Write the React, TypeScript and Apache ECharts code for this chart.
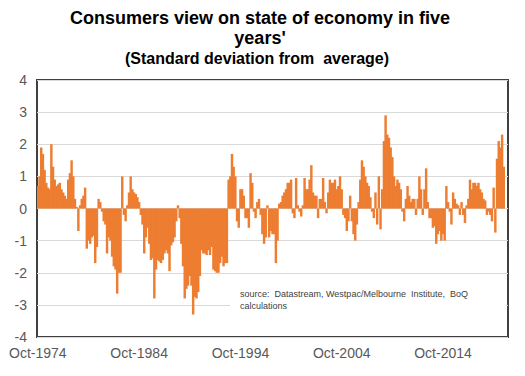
import React, { useEffect, useRef } from "react";
import * as echarts from "echarts";

// Bi-monthly readings (standard deviations from average), starting Oct-1974
const values1974to1984: (number | null)[] = [
  0.7, 1.0, 1.9, 1.7, 1.2, 0.8, 0.65, 0.6, 2.0, 1.3,
  0.9, 0.7, 0.75, 0.8, 0.6, 0.5, 0.4, 0.3, 0.9, 1.1,
  1.5, 1.0, 0.3, 0.05, -0.7, 0.1, 0.3, 0.4, 0.65, -1.25,
  -1.0, -1.1, -0.9, -0.85, -1.7, -1.2, 0.3, 0.2, -0.1, -0.4,
  -0.5, -1.4, -0.9, -1.0, -1.5, -1.8, -1.9, -2.65, -2.0, -2.0,
  1.0, -0.2, -0.4, 0.1, 0.5, 1.0, 0.6, 0.5, 0.45, 0.35,
];
const values1984to1994: (number | null)[] = [
  0.2, -0.2, -0.5, -1.4, -0.9, -0.6, -1.1, -1.6, -1.55, -2.8,
  -1.9, -1.6, -1.65, -1.7, -1.6, -1.4, -1.3, -1.4, -1.95, -1.15,
  -1.05, -0.9, -0.4, 0.1, -0.3, -1.1, -1.8, -2.8, -2.5, -2.4,
  -2.1, -2.4, -3.3, -2.75, -2.8, -2.6, -2.1, -1.3, -1.4, -1.4,
  -1.45, -1.3, -1.45, -1.2, -1.9, -1.95, -2.0, -2.0, -1.7, -1.5,
  -1.8, -1.7, -1.7, 0.9, 1.0, 1.7, 1.3, 1.0, -0.4, -0.6,
];
const values1994to2004: (number | null)[] = [
  0.6, 0.6, 0.4, -0.3, -0.3, -0.6, 1.1, 0.8, -0.1, -0.3,
  0.2, 0.3, -0.2, -0.8, -1.1, -0.9, 0.1, -0.9, -0.7, -0.8,
  -0.8, -1.7, -1.0, 0.15, 0.2, 0.4, 0.5, 0.6, 0.8, 0.8,
  0.9, -0.15, -0.3, 0.95, 0.1, -0.1, -0.25, 0.1, 0.95, 0.6,
  0.6, 0.9, 1.35, 0.5, 0.4, 0.4, -0.3, 0.3, 0.3, 0.95,
  0.2, -0.15, 0.5, 0.9, 0.8, 0.8, 0.9, 0.6, 0.7, 1.0,
];
const values2004to2014: (number | null)[] = [
  0.6, -0.2, -0.3, -0.7, -0.4, 0.4, -0.4, -0.8, -1.0, -0.5,
  0.2, 0.9, 1.5, 1.3, 1.0, 0.8, 0.7, 0.35, -0.1, -0.3,
  0.5, -0.5, 1.0, -0.65, 0.6, 2.1, 2.9, 2.3, 2.2, 1.9,
  1.6, 1.0, 0.7, 0.9, 0.8, 0.6, -0.1, -0.4, 0.3, 0.7,
  0.4, 0.2, 0.3, 0.3, -0.2, 0.3, 1.0, 0.6, -0.2, 0.6,
  1.25, 0.2, -0.3, -0.3, -0.6, -0.55, -1.1, -0.8, -0.7, -1.0,
];
const values2014to2021: (number | null)[] = [
  -0.8, -1.0, 0.7, 0.2, -0.1, -0.5, 0.5, 0.3, 0.15, 0.1,
  -0.2, 0.2, -0.2, -0.45, 0.1, 0.3, 0.9, 0.6, 0.8, 0.8,
  0.7, 0.8, 0.6, 0.5, 0.3, 0.25, -0.2, -0.1, -0.2, -0.4,
  0.65, -0.75, 1.55, 2.1, 1.9, 2.3, 1.3, null, null,
];

const yTicks = [-4, -3, -2, -1, 0, 1, 2, 3, 4];
const monthNames = ["Jan", "Feb", "Mar", "Apr", "May", "Jun", "Jul", "Aug", "Sep", "Oct", "Nov", "Dec"];

const titleLine1 = "Consumers view on state of economy in five";
const titleLine2 = "years'";
const subtitle = "(Standard deviation from  average)";
const sourceNote = "source:  Datastream, Westpac/Melbourne  Institute,  BoQ\ncalculations";

const seriesValues = [
  ...values1974to1984,
  ...values1984to1994,
  ...values1994to2004,
  ...values2004to2014,
  ...values2014to2021,
];

const categories: string[] = seriesValues.map((_, k) => {
  const m = 9 + 2 * k;
  return `${monthNames[m % 12]}-${1974 + Math.floor(m / 12)}`;
});

const FONT = "'Liberation Sans', Arial, sans-serif";
const BAR = "#ED7D31";

export default function App() {
  const ref = useRef<HTMLDivElement>(null);
  useEffect(() => {
    if (!ref.current) return;
    const chart = echarts.init(ref.current, undefined, { renderer: "svg" });
    chart.setOption({
      animation: false,
      backgroundColor: "#ffffff",
      grid: {
        left: 37,
        right: 17,
        top: 80,
        bottom: 39,
        show: true,
        borderColor: "#404040",
        borderWidth: 2,
        backgroundColor: "#ffffff",
      },
      xAxis: {
        type: "category",
        data: categories,
        axisLine: { show: false },
        axisTick: { show: false },
        axisLabel: {
          interval: 59,
          color: "#595959",
          fontSize: 14,
          fontFamily: FONT,
          margin: 9,
        },
      },
      yAxis: {
        type: "value",
        min: yTicks[0],
        max: yTicks[yTicks.length - 1],
        interval: 1,
        axisLine: { show: false },
        axisTick: { show: false },
        axisLabel: { color: "#595959", fontSize: 14, fontFamily: FONT, margin: 10 },
        splitLine: { lineStyle: { color: "#d9d9d9", width: 1 } },
      },
      graphic: [
        {
          type: "text",
          x: 260,
          y: 18,
          style: {
            text: titleLine1,
            align: "center",
            verticalAlign: "middle",
            fontSize: 18,
            fontWeight: "bold",
            fill: "#000",
            fontFamily: FONT,
          },
        },
        {
          type: "text",
          x: 260,
          y: 38,
          style: {
            text: titleLine2,
            align: "center",
            verticalAlign: "middle",
            fontSize: 18,
            fontWeight: "bold",
            fill: "#000",
            fontFamily: FONT,
          },
        },
        {
          type: "text",
          x: 257,
          y: 58,
          style: {
            text: subtitle,
            align: "center",
            verticalAlign: "middle",
            fontSize: 16,
            fontWeight: "bold",
            fill: "#000",
            fontFamily: FONT,
          },
        },
        {
          type: "rect",
          z: 5,
          shape: { x: 230, y: 280, width: 276, height: 38 },
          style: { fill: "#ffffff" },
        },
        {
          type: "text",
          z: 6,
          x: 240,
          y: 288,
          style: {
            text: sourceNote,
            fontSize: 9,
            lineHeight: 12,
            fill: "#404040",
            fontFamily: FONT,
          },
        },
      ],
      series: [
        {
          type: "bar",
          data: seriesValues,
          barCategoryGap: "-45%",
          itemStyle: { color: BAR },
        },
      ],
    });
    return () => chart.dispose();
  }, []);
  return (
    <div
      ref={ref}
      style={{ position: "absolute", left: 0, top: 0, width: 525, height: 376 }}
    />
  );
}
